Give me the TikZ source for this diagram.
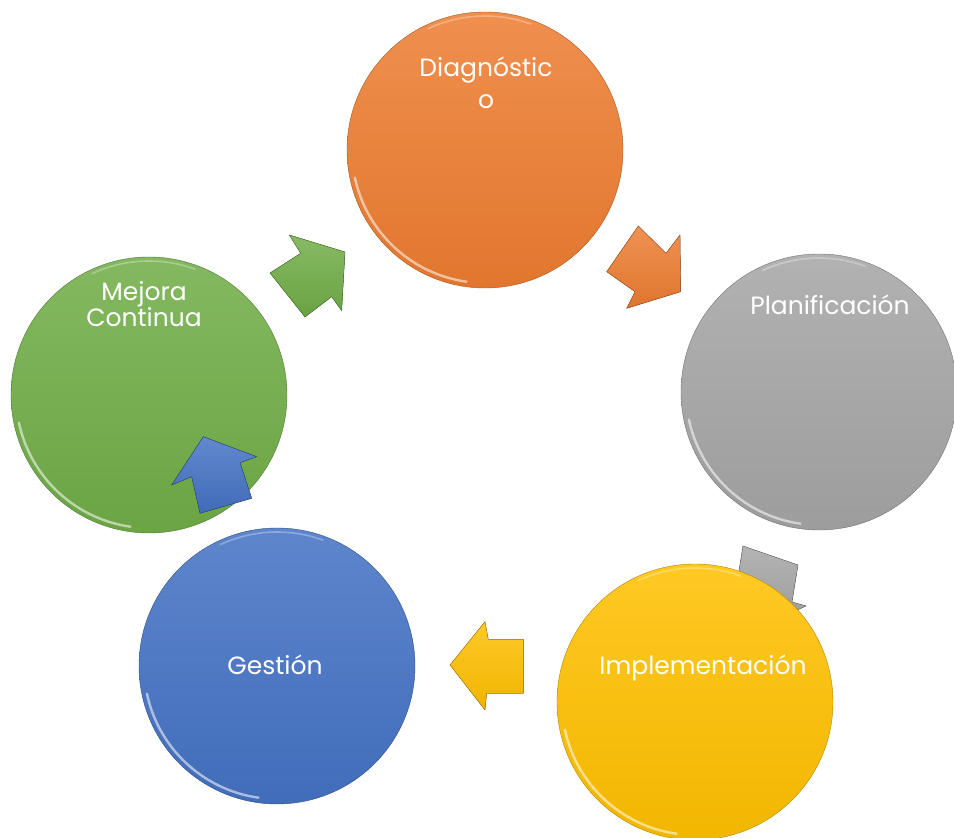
\documentclass[tikz,border=0pt]{standalone}
\usepackage{fontspec}
\setmainfont{Poppins}
\usetikzlibrary{calc}
\definecolor{corange}{HTML}{ED7D31}
\definecolor{cgray}{HTML}{A5A5A5}
\definecolor{cyellow}{HTML}{FFC000}
\definecolor{cblue}{HTML}{4472C4}
\definecolor{cgreen}{HTML}{70AD47}
\begin{document}
\begin{tikzpicture}[x=1pt,y=1pt,
  ball/.style={circle, minimum size=276pt, inner sep=0pt, draw=#1!70!black, line width=0.4pt,
    top color=#1!86!white, bottom color=#1!95!black},
  blockarrow/.style={draw=#1!65!black, line width=0.4pt, line join=miter,
    top color=#1!84!white, bottom color=#1!94!black},
  lbl/.style={text=white, font=\fontsize{25}{30}\selectfont, align=center, anchor=base, inner sep=0pt},
  rim/.style={white, opacity=0.55, line width=2.4pt, line cap=round},
  rimtop/.style={white, opacity=0.3, line width=1.6pt, line cap=round}]
\useasboundingbox (0,0) rectangle (954,838);
% gray arrow (behind the yellow circle)
\filldraw[blockarrow=cgray] (743,292) -- (798,273) -- (792,236) -- (806,232) -- (758,210) -- (723,258) -- (737,255) -- cycle;
% circles
\node[ball=corange] (diag) at (485,688) {};
\node[ball=cgray]   (plan) at (819,446) {};
\node[ball=cyellow] (impl) at (695,136) {};
\node[ball=cblue]   (gest) at (277,172) {};
\node[ball=cgreen]  (mejo) at (149,443) {};
\foreach \n in {diag,plan,impl,gest,mejo}{
  \draw[rim] ($(\n.center)+(192:133)$) arc[start angle=192, end angle=262, radius=133];
  \draw[rimtop] ($(\n.center)+(70:134)$) arc[start angle=70, end angle=115, radius=134];
}
% arrows
\filldraw[blockarrow=cgreen] (289.3,603) -- (345,586) -- (341.7,527.3) -- (331.7,541.3) -- (305,521) -- (270,565) -- (300.7,584.7) -- cycle;
\filldraw[blockarrow=corange] (638.3,612) -- (666,584.7) -- (680,603) -- (680.7,546.3) -- (626.7,529.7) -- (635,546.3) -- (606.7,566.3) -- cycle;
\filldraw[blockarrow=cyellow] (485,216.3) -- (488.3,198.7) -- (523.3,198.7) -- (523.3,144.7) -- (486.7,144.7) -- (485,128) -- (450,173) -- cycle;
\filldraw[blockarrow=cblue] (203.3,401.3) -- (256.7,381.3) -- (240,375.3) -- (251.7,339.7) -- (200,324.7) -- (191.7,361.3) -- (171.7,353) -- cycle;
% labels (base anchor = baseline of the last line)
\node[lbl, font=\fontsize{25}{32.6}\selectfont] (tdiag) at (486,729) {Diagnóstic\\o};
\node[lbl, font=\fontsize{25}{25}\selectfont] (tmejo) at (144,511.3) {Mejora\\Continua};
\node[lbl] (tplan) at (830,523) {Planificación};
\node[lbl] (timpl) at (703,163) {Implementación};
\node[lbl] (tgest) at (275,163) {Gestión};
\end{tikzpicture}
\end{document}
